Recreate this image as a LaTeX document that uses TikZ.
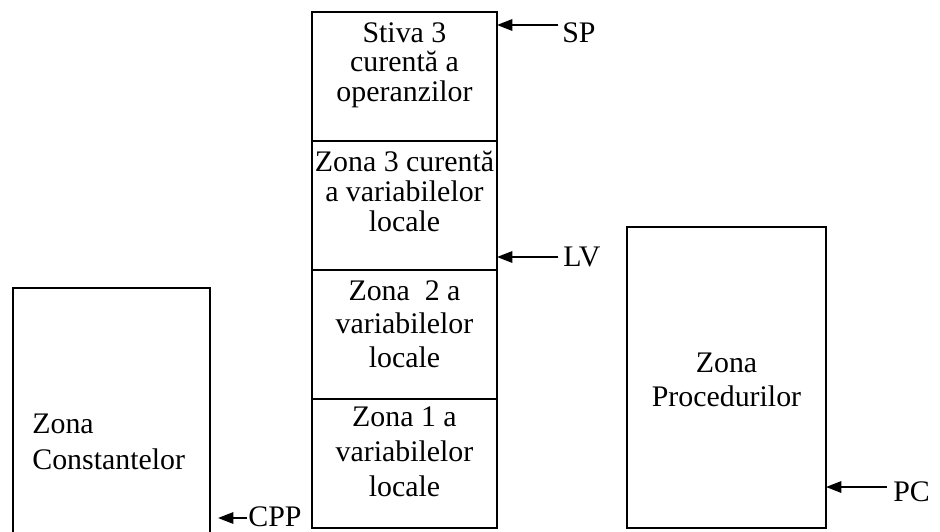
\documentclass[tikz,border=0pt]{standalone}
\usepackage{fontspec}
\setmainfont{Liberation Serif}
\usetikzlibrary{positioning,arrows.meta}

\tikzset{
    cell/.style={draw, line width=1.1pt, outer sep=0pt, inner sep=0pt,
                 minimum width=3.7cm, minimum height=2.58cm},
    box/.style={draw, line width=1.1pt, outer sep=0pt, inner sep=0pt},
    txt/.style={inner sep=0pt, align=center},
    lbl/.style={inner sep=0pt, anchor=west},
    ptr/.style={->, line width=1.1pt}
}

\begin{document}
\begin{tikzpicture}[x=0.02cm, y=-0.02cm, >={Triangle[length=3.1mm,width=2.3mm]},
                    font=\fontsize{17pt}{17pt}\selectfont]
                \useasboundingbox (0,0) rectangle (940,531);

                % stiva de zone
                \node[cell, anchor=north west] (stiva) at (312,12) {};
                \node[cell, below=0pt of stiva] (zona3) {};
                \node[cell, below=0pt of zona3] (zona2) {};
                \node[cell, below=0pt of zona2] (zona1) {};

                \node[txt, anchor=north] (stivaTxt) at ([yshift=-0.2cm]stiva.north)
                    {Stiva 3\\curentă a\\operanzilor};
                \node[txt, anchor=north] (zona3Txt) at ([yshift=-0.2cm]zona3.north)
                    {Zona 3 curentă\\a variabilelor\\locale};
                \node[txt, anchor=north, font=\fontsize{17pt}{19.3pt}\selectfont] (zona2Txt)
                    at ([yshift=-0.2cm]zona2.north) {Zona\ \ 2 a\\variabilelor\\locale};
                \node[txt, anchor=north, font=\fontsize{17pt}{19.8pt}\selectfont] (zona1Txt)
                    at ([yshift=-0.16cm]zona1.north) {Zona 1 a\\variabilelor\\locale};

                % zonele laterale
                \node[box, anchor=north west, minimum width=3.94cm, minimum height=5cm]
                    (constante) at (13,288) {};
                \node[txt, align=left, anchor=north west, font=\fontsize{17pt}{20pt}\selectfont]
                    (constanteTxt) at (32,414) {Zona\\Constantelor};

                \node[box, anchor=north west, minimum width=3.98cm, minimum height=6.02cm]
                    (proceduri) at (627,227) {};
                \node[txt, anchor=north, font=\fontsize{17pt}{19.3pt}\selectfont]
                    (proceduriTxt) at (726.5,353) {Zona\\Procedurilor};

                % pointeri
                \node[lbl] (sp) at (562,33) {SP};
                \node[lbl] (lv) at (563,257) {LV};
                \node[lbl] (cpp) at (248,517) {CPP};
                \node[lbl] (pc) at (893,492) {PC};

                \coordinate (spTail) at (558,25);
                \coordinate (lvTail) at (558,257);
                \coordinate (cppTail) at (247,518);
                \coordinate (cppTip) at (218,518);
                \coordinate (pcTail) at (887,487);

                \draw[ptr] (spTail) -- (spTail -| stiva.east);
                \draw[ptr] (lvTail) -- (lvTail -| zona3.east);
                \draw[ptr] (cppTail) -- (cppTip);
                \draw[ptr] (pcTail) -- (pcTail -| proceduri.east);
\end{tikzpicture}
\end{document}
